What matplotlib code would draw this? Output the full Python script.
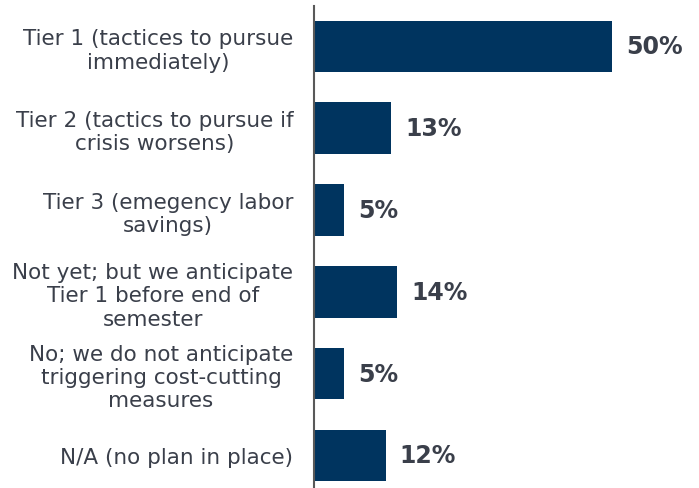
import matplotlib
matplotlib.use("Agg")
import matplotlib.pyplot as plt

categories = [
    "Tier 1 (tactices to pursue\nimmediately)",
    "Tier 2 (tactics to pursue if\ncrisis worsens)",
    "Tier 3 (emegency labor\nsavings)",
    "Not yet; but we anticipate\nTier 1 before end of\nsemester",
    "No; we do not anticipate\ntriggering cost-cutting\nmeasures",
    "N/A (no plan in place)",
]
values = [50, 13, 5, 14, 5, 12]

bar_color = "#00345f"
text_color = "#3a3f4a"

fig = plt.figure(figsize=(6.99, 4.89), dpi=100)
ax = fig.add_axes([314 / 699, 0.0, 1 - 314 / 699, 1 - 7 / 489])

y = list(range(len(categories)))
ax.barh(y, values, height=0.63, color=bar_color)
ax.set_ylim(5.4, -0.495)
ax.set_xlim(0, 385 / 298 * 50)

for yi, v in zip(y, values):
    ax.annotate(f"{v}%", xy=(v, yi), xytext=(10, 0), textcoords="offset points",
                ha="left", va="center", fontsize=17, fontweight="bold", color=text_color)

ax.set_yticks(y)
ax.set_yticklabels(categories, fontsize=15.5, color=text_color, multialignment="center", linespacing=1.2)
ax.tick_params(axis="y", length=0, pad=15)
ax.set_xticks([])
for s in ["top", "right", "bottom"]:
    ax.spines[s].set_visible(False)
ax.spines["left"].set_color("#595959")
ax.spines["left"].set_linewidth(1.5)

fig.savefig("out.png", dpi=100)
